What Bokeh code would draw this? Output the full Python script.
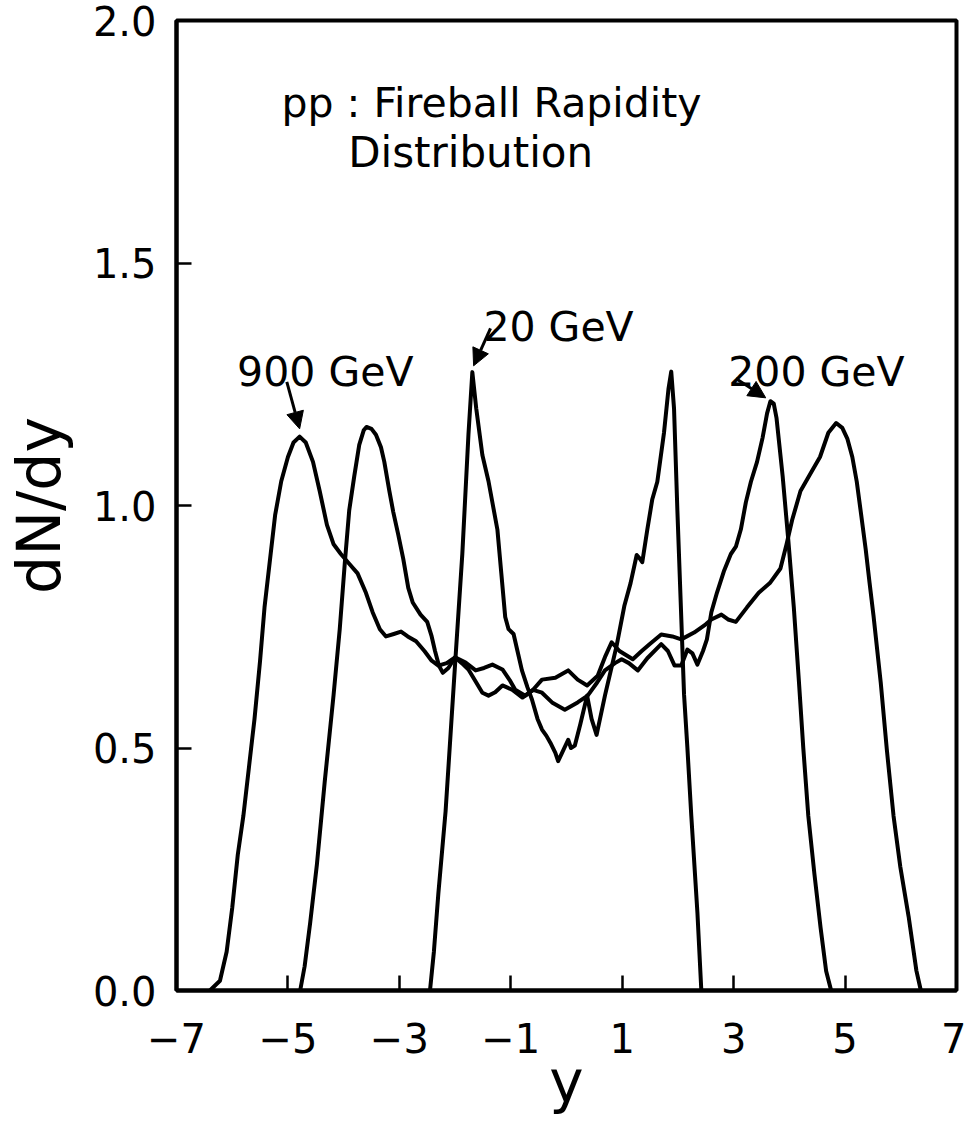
from bokeh.plotting import figure
from bokeh.models import Range1d, FixedTicker, Label, Arrow, NormalHead, NumeralTickFormatter
from bokeh.embed import file_html
from bokeh.resources import INLINE

# ---------------- data ----------------
x900 = [-6.40, -6.22, -6.10, -6.00, -5.90, -5.80, -5.70, -5.60, -5.50, -5.42, -5.32, -5.23,
        -5.12, -5.00, -4.90, -4.79, -4.68, -4.55, -4.43, -4.30, -4.18, -4.05, -3.90, -3.75,
        -3.60, -3.48, -3.35, -3.24, -3.10, -2.97, -2.85, -2.70, -2.55, -2.42, -2.30, -2.15,
        -2.00, -1.81, -1.63, -1.48, -1.33, -1.15, -1.02, -0.92, -0.74, -0.60, -0.44, -0.20,
        0.03, 0.20, 0.37, 0.56, 0.70, 0.81, 0.95, 1.19, 1.35, 1.49, 1.70, 1.90, 2.06, 2.29,
        2.50, 2.60, 2.78, 2.90, 3.04, 3.24, 3.45, 3.65, 3.84, 3.95, 4.05, 4.20, 4.40, 4.55,
        4.70, 4.84, 4.95, 5.04, 5.13, 5.21, 5.29, 5.37, 5.44, 5.51, 5.64, 5.75, 5.87, 5.99,
        6.14, 6.28, 6.36]
y900 = [0.00, 0.02, 0.08, 0.17, 0.28, 0.36, 0.46, 0.56, 0.68, 0.79, 0.89, 0.98,
        1.05, 1.10, 1.13, 1.142, 1.13, 1.09, 1.03, 0.96, 0.92, 0.90, 0.88, 0.86,
        0.82, 0.78, 0.745, 0.73, 0.735, 0.74, 0.73, 0.72, 0.70, 0.68, 0.67, 0.675,
        0.687, 0.676, 0.66, 0.665, 0.672, 0.662, 0.64, 0.62, 0.608, 0.62, 0.641, 0.645,
        0.66, 0.641, 0.629, 0.649, 0.69, 0.718, 0.70, 0.683, 0.70, 0.714, 0.734, 0.73, 0.724, 0.738,
        0.755, 0.765, 0.775, 0.765, 0.76, 0.79, 0.82, 0.84, 0.87, 0.92, 0.97, 1.03, 1.07, 1.10,
        1.15, 1.17, 1.16, 1.138, 1.10, 1.049, 0.98, 0.91, 0.84, 0.773, 0.635, 0.496, 0.36, 0.256,
        0.153, 0.041, 0.00]

x200 = [-4.78, -4.70, -4.60, -4.48, -4.34, -4.18, -4.07, -3.98, -3.90, -3.81, -3.72, -3.64,
        -3.59, -3.50, -3.42, -3.33, -3.27, -3.18, -3.11, -3.02, -2.93, -2.84, -2.76, -2.62,
        -2.50, -2.42, -2.36, -2.29, -2.22, -2.12, -2.00, -1.88, -1.76, -1.62, -1.51, -1.40,
        -1.28, -1.15, -0.97, -0.79, -0.60, -0.44, -0.26, -0.03, 0.20, 0.38, 0.55, 0.69,
        0.87, 0.99, 1.12, 1.28, 1.45, 1.70, 1.82, 1.94, 2.06, 2.17, 2.26, 2.35, 2.45, 2.52,
        2.60, 2.70, 2.83, 2.95, 3.04, 3.13, 3.22, 3.31, 3.42, 3.52, 3.60, 3.66, 3.72, 3.77,
        3.88, 3.98, 4.08, 4.17, 4.25, 4.34, 4.45, 4.56, 4.66, 4.75]
y200 = [0.00, 0.05, 0.14, 0.26, 0.43, 0.61, 0.745, 0.88, 0.99, 1.06, 1.125, 1.155,
        1.162, 1.158, 1.146, 1.12, 1.09, 1.03, 0.987, 0.94, 0.89, 0.83, 0.80, 0.775,
        0.76, 0.73, 0.70, 0.67, 0.655, 0.665, 0.687, 0.675, 0.662, 0.635, 0.614, 0.608,
        0.615, 0.629, 0.62, 0.604, 0.62, 0.614, 0.594, 0.579, 0.594, 0.608, 0.635, 0.66,
        0.675, 0.683, 0.675, 0.66, 0.685, 0.714, 0.70, 0.67, 0.67, 0.703, 0.695, 0.672, 0.70, 0.724,
        0.78, 0.82, 0.866, 0.90, 0.915, 0.951, 1.007, 1.049, 1.09, 1.14, 1.19, 1.215, 1.21, 1.18,
        1.06, 0.93, 0.79, 0.64, 0.50, 0.36, 0.24, 0.13, 0.04, 0.00]

x20 = [-2.45, -2.38, -2.30, -2.17, -2.08, -1.99, -1.87, -1.76, -1.69, -1.62, -1.51, -1.40,
       -1.32, -1.24, -1.17, -1.10, -1.04, -0.95, -0.88, -0.80, -0.70, -0.62, -0.52, -0.44,
       -0.36, -0.29, -0.20, -0.15, -0.08, 0.03, 0.08, 0.15, 0.25, 0.37, 0.45, 0.54, 0.69,
       0.90, 1.04, 1.15, 1.26, 1.32, 1.36, 1.45, 1.54, 1.63, 1.75, 1.83, 1.88, 1.93, 1.99,
       2.05, 2.11, 2.17, 2.24, 2.35, 2.42]
y20 = [0.00, 0.08, 0.20, 0.37, 0.53, 0.69, 0.90, 1.146, 1.275, 1.20, 1.104, 1.05,
       1.00, 0.95, 0.86, 0.77, 0.745, 0.735, 0.70, 0.66, 0.625, 0.60, 0.56, 0.538,
       0.525, 0.511, 0.49, 0.473, 0.49, 0.517, 0.50, 0.505, 0.55, 0.608, 0.56, 0.527, 0.608,
       0.711, 0.794, 0.84, 0.898, 0.89, 0.883, 0.95, 1.013, 1.049, 1.15, 1.24, 1.276, 1.20, 0.99,
       0.80, 0.61, 0.50, 0.36, 0.16, 0.00]

x_ticks = [-7, -5, -3, -1, 1, 3, 5, 7]
x_tick_labels = ["\u22127", "\u22125", "\u22123", "\u22121", "1", "3", "5", "7"]
y_ticks = [0.0, 0.5, 1.0, 1.5, 2.0]

FONT = "DejaVu Sans"

p = figure(width=966, height=1120, output_backend="svg", toolbar_location=None,
           x_range=Range1d(-7, 7), y_range=Range1d(0, 2),
           min_border_left=171, min_border_right=10, min_border_top=20, min_border_bottom=130)
p.grid.visible = False
p.outline_line_color = "black"
p.outline_line_width = 4
p.background_fill_color = "white"
p.border_fill_color = "white"

for ax in (p.xaxis[0], p.yaxis[0]):
    ax.axis_line_width = 4
    ax.axis_line_color = "black"
    ax.major_tick_in = 15
    ax.major_tick_out = 0
    ax.major_tick_line_width = 2.5
    ax.minor_tick_line_color = None
    ax.major_label_text_font = FONT
    ax.major_label_text_font_size = "40px"
    ax.major_label_text_color = "black"
    ax.axis_label_text_font = FONT
    ax.axis_label_text_font_style = "normal"
    ax.axis_label_text_color = "black"

p.xaxis.ticker = FixedTicker(ticks=x_ticks)
p.xaxis.major_label_overrides = {t: s for t, s in zip(x_ticks, x_tick_labels)}
p.xaxis.major_label_standoff = 32
p.xaxis.axis_label = "y"
p.xaxis.axis_label_text_font_size = "58px"
p.xaxis.axis_label_standoff = -8

p.yaxis.ticker = FixedTicker(ticks=y_ticks)
p.yaxis.formatter = NumeralTickFormatter(format="0.0")
p.yaxis.major_label_standoff = 20
p.yaxis.axis_label = "dN/dy"
p.yaxis.axis_label_text_font_size = "60px"
p.yaxis.axis_label_standoff = 16

for xs, ys in ((x900, y900), (x200, y200), (x20, y20)):
    p.line(xs, ys, line_color="black", line_width=4, line_join="round")

# annotations
p.add_layout(Label(x=-1.346, y=1.83, text="pp : Fireball Rapidity", text_font=FONT,
                   text_font_size="41px", text_align="center", text_baseline="alphabetic",
                   text_color="black"))
p.add_layout(Label(x=-1.72, y=1.727, text="Distribution", text_font=FONT,
                   text_font_size="42px", text_align="center", text_baseline="alphabetic",
                   text_color="black"))
p.add_layout(Label(x=-4.33, y=1.276, text="900 GeV", text_font=FONT, text_font_size="41px",
                   text_align="center", text_baseline="alphabetic", text_color="black"))
p.add_layout(Label(x=-0.143, y=1.369, text="20 GeV", text_font=FONT, text_font_size="41px",
                   text_align="center", text_baseline="alphabetic", text_color="black"))
p.add_layout(Label(x=4.486, y=1.276, text="200 GeV", text_font=FONT, text_font_size="41px",
                   text_align="center", text_baseline="alphabetic", text_color="black"))

for xs_, ys_, xe_, ye_ in ((-5.02, 1.255, -4.79, 1.158), (-1.364, 1.365, -1.667, 1.288),
                           (3.04, 1.262, 3.576, 1.222)):
    p.add_layout(Arrow(end=NormalHead(size=17, fill_color="black", line_color="black"),
                       x_start=xs_, y_start=ys_, x_end=xe_, y_end=ye_,
                       line_color="black", line_width=3))

open("out.html", "w").write(file_html(p, INLINE))
